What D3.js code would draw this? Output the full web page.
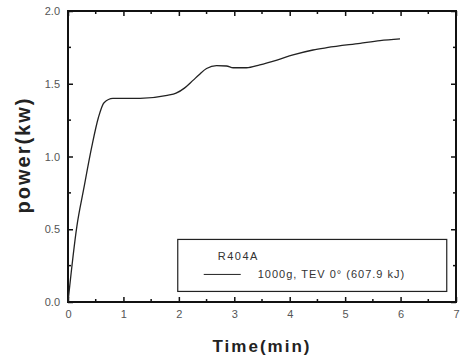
<!DOCTYPE html>
<html>
<head>
<meta charset="utf-8">
<script src="https://cdn.jsdelivr.net/npm/d3@7"></script>
<style>
  body { margin: 0; background: #fff; }
  text { font-family: "Liberation Sans", Arial, sans-serif; }
</style>
</head>
<body>
<div id="chart"></div>
<script>
        var width = 462, height = 359;
        var margin = {top: 11, right: 6, bottom: 57, left: 68};

        // curve
        var timeMin = [0, 0.16, 0.28, 0.43, 0.55, 0.65, 0.81, 1.30, 1.79, 1.95, 2.10, 2.26, 2.36, 2.50, 2.68, 2.86, 2.98, 3.22, 3.46, 3.77, 4.06, 4.42, 4.67, 5.27, 5.63, 5.99];
        var powerKw = [0, 0.52, 0.77, 1.07, 1.27, 1.37, 1.40, 1.40, 1.42, 1.435, 1.47, 1.525, 1.56, 1.605, 1.624, 1.622, 1.61, 1.61, 1.63, 1.663, 1.698, 1.732, 1.748, 1.778, 1.796, 1.808];
        var xTicks = [0, 1, 2, 3, 4, 5, 6, 7];
        var yTicks = [0.0, 0.5, 1.0, 1.5, 2.0];
        var legendTitle = "R404A";
        var legendLabel = "1000g, TEV 0\u00B0 (607.9 kJ)";

        var w = width - margin.left - margin.right;
        var h = height - margin.top - margin.bottom;

        var x = d3.scaleLinear().domain([0, 7]).range([0, w]);
        var y = d3.scaleLinear().domain([0, 2]).range([h, 0]);

        var svg = d3.select("#chart")
                    .append("svg")
                    .attr("width", width)
                    .attr("height", height);

        var g = svg.append("g").attr("transform", "translate(" + margin.left + "," + margin.top + ")");

        var xMinor = d3.range(0.5, 7, 1);
        var yMinor = d3.range(0.25, 2, 0.5);

        // inward ticks on all four sides
        function ticks(sel, axis, major) {
            sel.call(axis.tickValues(major).tickSize(-5).tickPadding(8));
            sel.select(".domain").remove();
            sel.selectAll(".tick line").attr("stroke", "#111").attr("stroke-width", 1.5);
            sel.selectAll(".tick text").attr("fill", "#555").style("font-size", "11px");
        }

        var gx = g.append("g").attr("transform", "translate(0," + h + ")");
        ticks(gx, d3.axisBottom(x).tickFormat(d3.format("d")), xTicks);
        var gxt = g.append("g");
        gxt.call(d3.axisTop(x).tickValues(xTicks).tickSize(-5).tickFormat(""));
        var gy = g.append("g");
        ticks(gy, d3.axisLeft(y).tickFormat(d3.format(".1f")), yTicks);
        var gyr = g.append("g").attr("transform", "translate(" + w + ",0)");
        gyr.call(d3.axisRight(y).tickValues(yTicks).tickSize(-5).tickFormat(""));
        [gxt, gyr].forEach(function(s) {
            s.select(".domain").remove();
            s.selectAll(".tick line").attr("stroke", "#111").attr("stroke-width", 1.5);
        });

        // minor ticks
        xMinor.forEach(function(v) {
            g.append("line").attr("x1", x(v)).attr("x2", x(v)).attr("y1", h).attr("y2", h - 3).attr("stroke", "#111").attr("stroke-width", 1.5);
            g.append("line").attr("x1", x(v)).attr("x2", x(v)).attr("y1", 0).attr("y2", 3).attr("stroke", "#111").attr("stroke-width", 1.5);
        });
        yMinor.forEach(function(v) {
            g.append("line").attr("y1", y(v)).attr("y2", y(v)).attr("x1", 0).attr("x2", 3).attr("stroke", "#111").attr("stroke-width", 1.5);
            g.append("line").attr("y1", y(v)).attr("y2", y(v)).attr("x1", w).attr("x2", w - 3).attr("stroke", "#111").attr("stroke-width", 1.5);
        });

        g.append("rect")
         .attr("width", w).attr("height", h)
         .attr("fill", "none").attr("stroke", "#111").attr("stroke-width", 2);

        var line = d3.line()
                     .x(function(d, i) { return x(timeMin[i]); })
                     .y(function(d) { return y(d); })
                     .curve(d3.curveMonotoneX);

        g.append("path")
         .attr("d", line(powerKw))
         .attr("fill", "none")
         .attr("stroke", "#222")
         .attr("stroke-width", 1.3);

        // legend
        var lg = g.append("g").attr("transform", "translate(" + x(1.98) + "," + y(0.43) + ")");
        lg.append("rect").attr("width", 269).attr("height", 52)
          .attr("fill", "#fff").attr("stroke", "#222").attr("stroke-width", 1.2);
        lg.append("text").attr("x", 40).attr("y", 21).text(legendTitle)
          .attr("fill", "#333").style("font-size", "11px").style("letter-spacing", "1.5px");
        lg.append("line").attr("x1", 26).attr("x2", 63).attr("y1", 35).attr("y2", 35)
          .attr("stroke", "#222").attr("stroke-width", 1);
        lg.append("text").attr("x", 80).attr("y", 39).text(legendLabel)
          .attr("fill", "#333").style("font-size", "11px").style("letter-spacing", "1px");

        svg.append("text")
           .attr("x", 262).attr("y", 352)
           .attr("text-anchor", "middle")
           .style("font-size", "17px").style("font-weight", "bold")
           .style("letter-spacing", "2px")
           .attr("fill", "#222")
           .text("Time(min)");

        svg.append("text")
           .attr("transform", "translate(30," + 155 + ") rotate(-90)")
           .attr("text-anchor", "middle")
           .style("font-size", "20px").style("font-weight", "bold")
           .style("letter-spacing", "2px")
           .attr("fill", "#222")
           .text("power(kw)");
</script>
</body>
</html>
